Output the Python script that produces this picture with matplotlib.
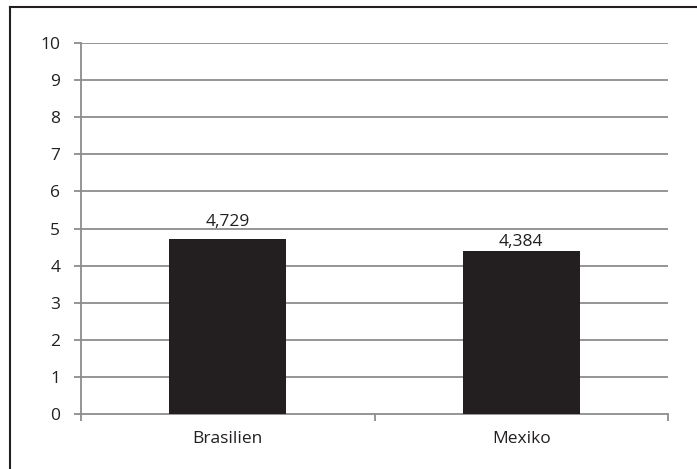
import matplotlib.pyplot as plt
from matplotlib.lines import Line2D

# Bar values per country
countries = ['Brasilien', 'Mexiko']
values = [4.729, 4.384]
y_ticks = list(range(0, 11))

plt.rcParams['font.family'] = ['Open Sans', 'DejaVu Sans']
fs = 12.5
txt_col = '#231f20'
label_lift = [0.35, 0.15]  # gap between bar top and value label

fig = plt.figure(figsize=(6.97, 4.69), dpi=100)
ax = fig.add_axes([81 / 697, 55 / 469, 587 / 697, 371 / 469])

grid_col = '#8c8c8c'
positions = [i + 0.5 for i in range(len(countries))]
ax.bar(positions, values, width=0.4, color='#231f20', zorder=3)

for x, v, lift in zip(positions, values, label_lift):
    ax.text(x, v + lift, f'{v:.3f}'.replace('.', ','), ha='center', va='baseline',
            fontsize=fs, color=txt_col)

ax.set_xlim(0, len(countries))
ax.set_ylim(0, 10)
ax.set_yticks(y_ticks)
ax.set_yticklabels([str(t) for t in y_ticks], fontsize=fs, color=txt_col)
for t in y_ticks[1:]:
    ax.axhline(t, color=grid_col, lw=1.3, zorder=1)

# category labels centred, separator ticks at category edges
ax.set_xticks(positions)
ax.set_xticklabels(countries, fontsize=fs, color=txt_col)
ax.set_xticks(range(len(countries) + 1), minor=True)
ax.tick_params(axis='x', which='major', length=0, pad=12)
ax.tick_params(axis='x', which='minor', length=5, width=1.3, color=grid_col)
ax.tick_params(axis='y', length=5, width=1.3, color=grid_col, pad=10)

for side in ['top', 'right']:
    ax.spines[side].set_visible(False)
for side in ['left', 'bottom']:
    ax.spines[side].set_color(grid_col)
    ax.spines[side].set_linewidth(1.3)

# outer frame (top and left edges)
fx = 10 / 697
fy = 462 / 469
fig.add_artist(Line2D([fx, 1], [fy, fy], transform=fig.transFigure, color='#231f20', lw=1.5))
fig.add_artist(Line2D([fx, fx], [0, fy], transform=fig.transFigure, color='#231f20', lw=1.5))

fig.savefig('out.png', dpi=100)
